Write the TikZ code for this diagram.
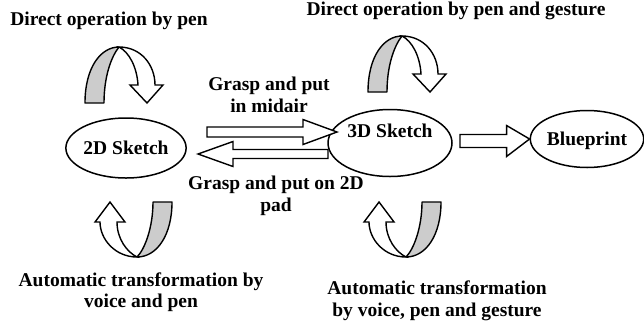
\documentclass[tikz,border=0pt]{standalone}
\usepackage{fontspec}
\setmainfont{Liberation Serif}
\usetikzlibrary{shapes.geometric,calc}
\definecolor{bandgray}{gray}{0.8}

\tikzset{
  lbl/.style={align=center, font=\fontsize{19.5}{21.5}\selectfont\bfseries},
  ellip/.style={ellipse, draw, line width=1.5pt, inner sep=0pt, text height=13pt, text depth=0pt,
    font=\fontsize{19.5}{21.5}\selectfont\bfseries},
  blk/.style={draw, line width=1.4pt, fill=white, line join=miter},
  band/.style={draw, line width=1.4pt, fill=bandgray, line join=round},
  front/.style={draw, line width=1.4pt, fill=white, line join=miter},
  % arch arrow turning down
  curvdown/.pic={
    \path[band] (-34,56) .. controls (-34,20) and (-18,0) .. (0,0)
      .. controls (-8,10) and (-15,30) .. (-15,56) -- cycle;
    \path[front] (0,0) .. controls (22,0) and (36,18) .. (36,38) -- (44,38) -- (28,56)
      -- (11,38) -- (19,38) .. controls (18,20) and (10,5) .. (0,0) -- cycle;
  },
  % u-turn arrow turning up
  curvup/.pic={
    \path[band] (35,-55) .. controls (35,-22) and (20,0) .. (0,0)
      .. controls (8,-8) and (16,-30) .. (16,-55) -- cycle;
    \path[front] (0,0) .. controls (-22,0) and (-37,-18) .. (-37,-35) -- (-42,-35) -- (-27,-55)
      -- (-12,-35) -- (-20,-35) .. controls (-20,-18) and (-10,-5) .. (0,0) -- cycle;
  }
}

% block arrow: from, to, shaft half width, head half width, head length
\newcommand{\blockarrow}[5]{%
  \draw[blk] let \p1=(#1), \p2=(#2), \p3=($(#2)!#5pt!(#1)$) in
    (\x1,\y1+#3pt) -- (\x3,\y1+#3pt) -- (\x3,\y1+#4pt) -- (\x2,\y2)
    -- (\x3,\y1-#4pt) -- (\x3,\y1-#3pt) -- (\x1,\y1-#3pt) -- cycle;}

\begin{document}
\begin{tikzpicture}[x=1pt,y=-1pt]
\useasboundingbox (0,0) rectangle (644,330);

\node[ellip, minimum width=117pt, minimum height=60pt] (sk2d) at (126,148) {2D Sketch};
\node[ellip, minimum width=124pt, minimum height=67pt, text depth=24pt] (sk3d) at (390,143) {3D Sketch};
\node[ellip, minimum width=113pt, minimum height=57pt] (blue) at (587,139) {Blueprint};

\coordinate (mid1) at (207,132);
\coordinate (mid2) at (337,132);
\coordinate (pad1) at (328,154);
\coordinate (pad2) at (198,154);
\coordinate (bp1) at (460,141);

\blockarrow{mid1}{mid2}{5}{12.5}{34}
\blockarrow{pad1}{pad2}{4.5}{12.5}{35}
\blockarrow{bp1}{blue.west}{6.5}{15.5}{23}

\pic at (119,47) {curvdown};
\pic at (402,36) {curvdown};
\pic at (137,257) {curvup};
\pic at (406,257) {curvup};

\node[lbl] (dop) at (109,21) {Direct operation by pen};
\node[lbl] (dopg) at (456,11) {Direct operation by pen and gesture};
\node[lbl] (gmid) at (269,95) {Grasp and put\\in midair};
\node[lbl] (gpad) at (276,196) {Grasp and put on 2D\\pad};
\node[lbl] (atvp) at (141,292) {Automatic transformation by\\voice and pen};
\node[lbl] (atvpg) at (437,301) {Automatic transformation\\by voice, pen and gesture};
\end{tikzpicture}
\end{document}
